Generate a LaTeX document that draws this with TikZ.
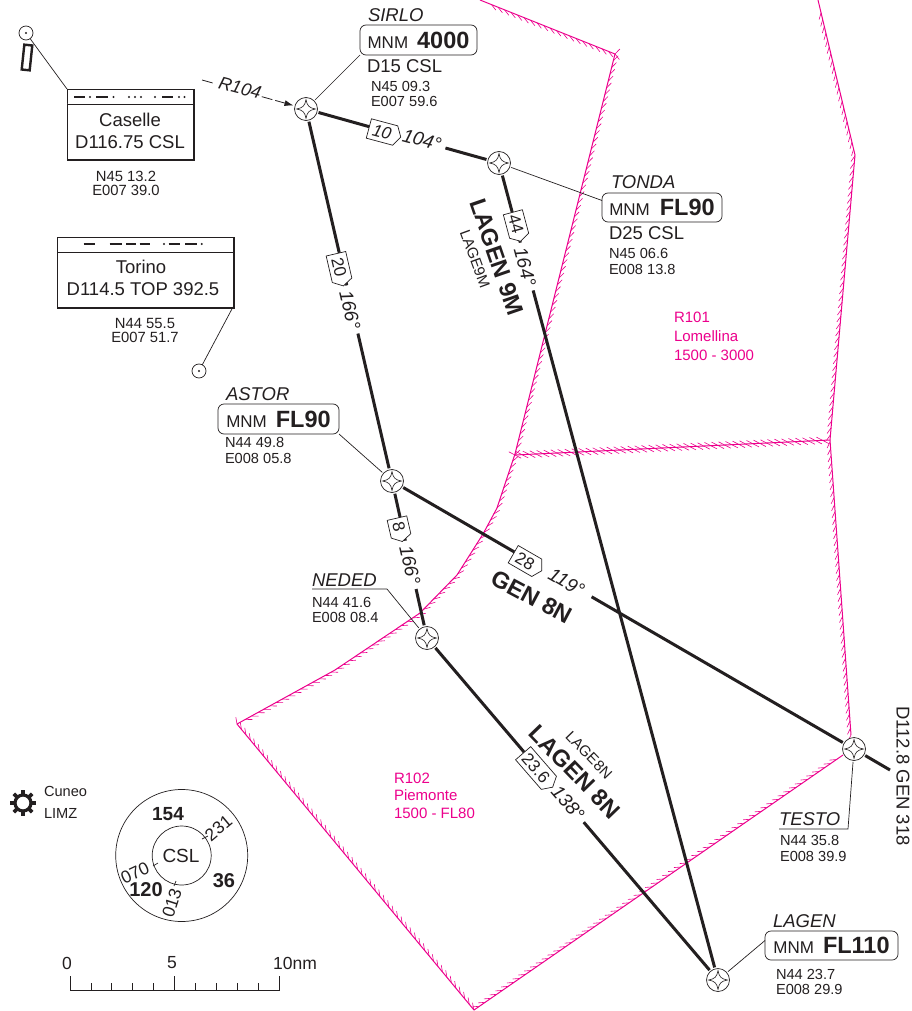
\documentclass[tikz,border=0pt]{standalone}
\usepackage{fontspec}
\setmainfont{Liberation Sans}
\usetikzlibrary{decorations.pathreplacing,shapes.symbols,arrows.meta,calc}
\definecolor{ink}{HTML}{231F20}
\definecolor{mag}{HTML}{EC008C}
\newcommand{\fs}[1]{\fontsize{#1}{#1}\selectfont}
\newcommand{\mnmtxt}[2]{MNM\hspace{#1}{\bfseries\fs{23.5}#2}}
\tikzset{
  x=1pt,y=-1pt,
  every node/.style={text=ink,inner sep=0pt,outer sep=0pt},
  air/.style={draw=mag,line width=1pt},
  hatchA/.style={draw=mag,line width=0.6pt,decorate,decoration={border,segment length=7pt,amplitude=7pt,angle=150}},
  hatchB/.style={draw=mag,line width=0.6pt,decorate,decoration={border,segment length=7pt,amplitude=7pt,angle=-30}},
  route/.style={draw=ink,line width=3pt},
  leader/.style={draw=ink,line width=0.7pt},
  wpt/.style={circle,draw=ink,fill=white,line width=0.7pt,minimum size=23pt,outer sep=1.5pt,
    path picture={\draw[ink,line width=0.6pt] (path picture bounding box.center) ++(0,-9.5)
      .. controls +(1.2,6.5) and +(-6.5,-1.2) .. ++(9.5,9.5)
      .. controls +(-6.5,1.2) and +(1.2,-6.5) .. ++(-9.5,9.5)
      .. controls +(-1.2,-6.5) and +(6.5,1.2) .. ++(-9.5,-9.5)
      .. controls +(6.5,-1.2) and +(-1.2,6.5) .. ++(9.5,-9.5) -- cycle;}},
  nav/.style={circle,draw=ink,line width=0.7pt,minimum size=14pt,
    path picture={\fill[ink] (path picture bounding box.center) circle (1.2);}},
  tag/.style={signal,signal to=east,signal pointer angle=120,draw=ink,fill=white,line width=0.7pt,
    inner ysep=4pt,inner xsep=2pt,font=\fs{17}},
  brg/.style={fill=white,inner xsep=5pt,inner ysep=1.5pt,font=\itshape\fs{19}},
  proc/.style={font=\bfseries\fs{23.5}},
  procs/.style={font=\fs{15}},
  fixname/.style={anchor=west,font=\itshape\fs{18.5}},
  crd/.style={anchor=west,font=\fs{14.6}},
  ccrd/.style={font=\fs{14.8}},
  big/.style={font=\fs{18.5}},
  mnm/.style={draw=ink,fill=white,rounded corners=6pt,line width=0.7pt,font=\fs{17},align=center},
  magtxt/.style={anchor=west,text=mag,font=\fs{15}},
  vor/.style={draw=ink,fill=white,line width=0.8pt},
  morse/.style={draw=ink,line width=1.3pt},
}
\begin{document}
\begin{tikzpicture}
\useasboundingbox (0,0) rectangle (911,1011);
% airspace
\path[air] (615,54) -- (480,0);
\path[hatchA] (615,54) -- (480,0);
\path[air] (615,54) -- (515,454) -- (497,508) -- (483,534) -- (457,575) -- (420,613) -- (335,670) -- (237,724);
\path[hatchA] (615,54) -- (515,454) -- (497,508) -- (483,534) -- (457,575) -- (420,613) -- (335,670) -- (237,724);
\path[air] (237,724) -- (474,1010) -- (843,755);
\path[hatchA] (237,724) -- (474,1010) -- (843,755);
\path[air] (851,735) -- (830,440) -- (855,155) -- (818,0);
\path[hatchA] (851,735) -- (830,440) -- (855,155) -- (818,0);
\path[air] (515,455) -- (830,440);
\path[hatchA] (515,455) -- (830,440);
\path[hatchB] (515,455) -- (830,440);
\node[magtxt] (r101a) at (674,317) {R101};
\node[magtxt] (r101b) at (674,336) {Lomellina};
\node[magtxt] (r101c) at (674,355) {1500 - 3000};
\node[magtxt] (r102a) at (394,778) {R102};
\node[magtxt] (r102b) at (394,795) {Piemonte};
\node[magtxt] (r102c) at (394,813) {1500 - FL80};
% waypoints
\node[wpt] (sirlo) at (306,109) {};
\node[wpt] (wp104) at (499,163) {};
\node[wpt] (astor) at (392,481) {};
\node[wpt] (neded) at (427,638) {};
\node[wpt] (testo) at (854,749) {};
\node[wpt] (lagen) at (718,980) {};
\coordinate (gen) at (890,770);
% routes
\draw[route] (sirlo) -- (wp104);
\draw[route] (sirlo) -- (astor);
\draw[route] (wp104) -- (lagen);
\draw[route] (astor) -- (neded);
\draw[route] (astor) -- (testo);
\draw[route] (testo) -- (gen);
\draw[route] (neded) -- (lagen);
% labels on routes
\node[brg,rotate=-15] (b104) at (422,140) {104°};
\node[tag,rotate=-15,minimum width=33pt] (d10) at (382,132) {\itshape 10};
\node[brg,rotate=-75] (b164) at (525,267) {164°};
\node[tag,rotate=-75,minimum width=30pt] (d44) at (516,224) {44};
\node[brg,rotate=-77] (b166) at (350,310) {166°};
\node[tag,rotate=-77,minimum width=33pt] (d20) at (339,267) {20};
\node[brg,rotate=-77] (b166b) at (410,565) {166°};
\node[tag,rotate=-77,minimum width=24pt] (d8) at (399,527) {8};
\node[brg,rotate=-30,minimum width=58pt] (b119) at (566.5,582) {119°};
\node[tag,rotate=-30,minimum width=33pt] (d28) at (525,561) {28};
\node[brg,rotate=-49] (b138) at (568,803) {138°};
\node[tag,rotate=-49,minimum width=45pt] (d236) at (536,768) {23.6};
\node[proc,rotate=-71] (p9m) at (497,257) {LAGEN 9M};
\node[procs,rotate=-70] (t9m) at (475,259) {LAGE9M};
\node[proc,rotate=-28] (p8n) at (532,597) {GEN 8N};
\node[proc,rotate=-46] (p8m) at (575,772) {LAGEN 8N};
\node[procs,rotate=-46] (t8n) at (589,755) {LAGE8N};
\node[font=\fs{18.5},rotate=-90] (genl) at (903,776) {D112.8 GEN 318};
% fix boxes
\node[mnm,minimum width=117pt,minimum height=30pt] (sirlobox) at (418.5,40) {\mnmtxt{9pt}{4000}};
\node[mnm,minimum width=120pt,minimum height=29pt] (tondabox) at (662,207.5) {\mnmtxt{10pt}{FL90}};
\node[mnm,minimum width=121pt,minimum height=30pt] (astorbox) at (278.5,419) {\mnmtxt{9pt}{FL90}};
\node[mnm,minimum width=133pt,minimum height=29pt] (lagenbox) at (831.5,945.5) {\mnmtxt{9pt}{FL110}};
\node[fixname] (n1) at (368,15) {SIRLO};
\node[fixname] (n2) at (611,182) {TONDA};
\node[fixname] (n3) at (226,394) {ASTOR};
\node[fixname] (n4) at (773,921) {LAGEN};
\node[fixname] (n5) at (312,580) {NEDED};
\node[fixname] (n6) at (779,819) {TESTO};
\node[anchor=west,font=\fs{18.5}] (d15) at (367,66) {D15 CSL};
\node[anchor=west,font=\fs{18.5}] (d25) at (609,233) {D25 CSL};
\node[crd] (c1a) at (371,86) {N45 09.3};
\node[crd] (c1b) at (371,101) {E007 59.6};
\node[crd] (c2a) at (609,253) {N45 06.6};
\node[crd] (c2b) at (609,269) {E008 13.8};
\node[crd] (c3a) at (225,442) {N44 49.8};
\node[crd] (c3b) at (225,458) {E008 05.8};
\node[crd] (c4a) at (312,602) {N44 41.6};
\node[crd] (c4b) at (312,617) {E008 08.4};
\node[crd] (c5a) at (780,840) {N44 35.8};
\node[crd] (c5b) at (780,856) {E008 39.9};
\node[crd] (c6a) at (776,974) {N44 23.7};
\node[crd] (c6b) at (776,989) {E008 29.9};
\node[ccrd] (c7a) at (126,176) {N45 13.2};
\node[ccrd] (c7b) at (126,190) {E007 39.0};
\node[ccrd] (c8a) at (145,323) {N44 55.5};
\node[ccrd] (c8b) at (145,337) {E007 51.7};
% leaders
\draw[leader] (sirlo) -- (sirlobox.south west);
\draw[leader] (wp104) -- ([yshift=7pt]tondabox.west);
\draw[leader] (astor) -- (astorbox.south east);
\draw[leader] (lagen) -- ([yshift=5pt]lagenbox.west);
\coordinate (nu1) at (312,589);
\coordinate (nu2) at (387,589);
\draw[leader] (nu1) -- (nu2) -- (neded);
\coordinate (tu1) at (779,829);
\coordinate (tu2) at (848,829);
\draw[leader] (tu1) -- (tu2) -- (testo);
% navaids
\node[rectangle,draw=ink,line width=2.4pt,fill=white,minimum width=8pt,minimum height=25pt,rotate=-6] (rwy) at (27,57.5) {};
\node[nav] (cvor) at (26,33) {};
\node[nav] (tvor) at (199,371) {};
\node[draw=ink,line width=0.8pt,fill=white,minimum width=126pt,minimum height=70pt] (cbox) at (130,124) {};
\node[draw=ink,line width=0.8pt,fill=white,minimum width=176pt,minimum height=70pt] (tbox) at (145,272) {};
\draw[ink,line width=2.5pt] (cbox.north east) ++(0.8,0) -- ++(0,71) -- ++(-127,0);
\draw[ink,line width=2.5pt] (tbox.north east) ++(0.8,0) -- ++(0,71) -- ++(-177,0);
\coordinate (cdl) at (67,104); \coordinate (cdr) at (193,104);
\draw[vor] (cdl) -- (cdr);
\coordinate (tdl) at (57,252); \coordinate (tdr) at (233,252);
\draw[vor] (tdl) -- (tdr);
\node[big] (caselle) at (130,120) {Caselle};
\node[big] (cfreq) at (130,142) {D116.75 CSL};
\node[big] (torino) at (141,267) {Torino};
\node[big] (tfreq) at (143,289) {D114.5 TOP 392.5};
\draw[leader] (cvor) -- (cbox.north west);
\draw[leader] (tvor) -- (tbox.south east);
% morse
\foreach \a/\b in {74/85,96/108,162/173}{\draw[morse] (\a,97) -- (\b,97);}
\foreach \a in {90,113.5,129,135,141,155,179,184.5}{\fill[ink] (\a,97) circle (1.2);}
\foreach \a/\b in {83.5/95,109.5/122,126/136,139.5/150,168.5/180,185/196.5}{\draw[morse] (\a,244) -- (\b,244);}
\foreach \a in {164,201.7}{\fill[ink] (\a,244) circle (1.2);}
% R104
\coordinate (r104s) at (202,80);
\draw[ink,line width=0.8pt,dash pattern=on 11pt off 51pt on 11pt off 3pt on 20pt,-{Latex[length=9pt,width=6pt]}] (r104s) -- (sirlo);
\node[font=\itshape\fs{18},rotate=-15] (r104) at (240,88) {R104};
% Cuneo
\node[circle,draw=ink,line width=3.2pt,minimum size=16pt] (gear) at (23,803) {};
\foreach \g in {0,45,...,315}{\draw[ink,line width=3.6pt] (gear.center) ++(\g:8) -- ++(\g:5);}
\node[anchor=west,font=\fs{14.6}] (cuneo) at (44,791) {Cuneo};
\node[anchor=west,font=\fs{14.6}] (limz) at (44,813) {LIMZ};
% MSA
\node[circle,draw=ink,line width=0.7pt,minimum size=132pt] (msao) at (181.7,855.5) {};
\node[circle,draw=ink,line width=0.7pt,minimum size=59pt] (msai) at (181.7,855.5) {};
\node[font=\fs{19}] (csl) at (181,856) {CSL};
\node[font=\bfseries\fs{19}] (m154) at (168,814) {154};
\node[font=\bfseries\fs{20}] (m36) at (224,881) {36};
\node[font=\bfseries\fs{20}] (m120) at (146,890) {120};
\node[font=\fs{17.5},rotate=40] (r231) at (218.5,828) {231};
\node[font=\fs{17.5},rotate=25] (r070) at (135,873) {070};
\node[font=\fs{17.5},rotate=72] (r013) at (172,903) {013};
\coordinate (t1a) at (202,839); \coordinate (t1b) at (208,836);
\draw[leader] (t1a) -- (t1b);
\coordinate (t2a) at (153,866); \coordinate (t2b) at (158,863);
\draw[leader] (t2a) -- (t2b);
\coordinate (t3a) at (174,886); \coordinate (t3b) at (176,881);
\draw[leader] (t3a) -- (t3b);
% scale
\coordinate (s0) at (70,990.3); \coordinate (s10) at (279.3,990.3);
\coordinate (s0t) at (70,976); \coordinate (s10t) at (279.3,976);
\draw[leader,line width=0.8pt] (s0t) -- (s0) -- (s10) -- (s10t);
\coordinate (s5t) at (174.6,976); \coordinate (s5b) at (174.6,990.3);
\draw[leader,line width=0.8pt] (s5t) -- (s5b);
\foreach \i in {1,2,3,4,6,7,8,9}{\draw[leader,line width=0.8pt] ({70+20.93*\i},983) -- ({70+20.93*\i},990.3);}
\node[font=\fs{17.5}] (l0) at (67,963) {0};
\node[font=\fs{17.5}] (l5) at (172,963) {5};
\node[font=\fs{17.5}] (l10) at (295,963) {10nm};
\end{tikzpicture}
\end{document}
